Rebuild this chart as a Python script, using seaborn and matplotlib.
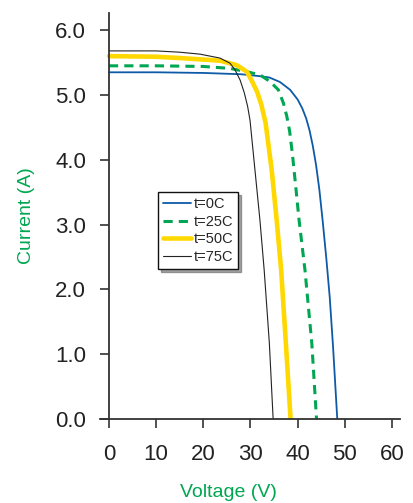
import numpy as np
import pandas as pd
import matplotlib
matplotlib.use('Agg')
import matplotlib.pyplot as plt
import seaborn as sns

sns.set_style('white')
plt.rcParams['font.family'] = ['Liberation Sans', 'DejaVu Sans']

# I-V curves (voltage V, current A)
v_0 = [0, 10, 20, 28, 32.0, 34.0, 36.25, 38.4, 40.0, 41.0, 41.8, 42.5, 43.2, 43.9, 44.6, 45.3, 46.1, 46.8, 47.5, 48.4]
i_0 = [5.35, 5.35, 5.34, 5.32, 5.29, 5.27, 5.20, 5.08, 4.93, 4.79, 4.64, 4.46, 4.22, 3.92, 3.54, 3.06, 2.46, 1.88, 1.12, 0.0]

v_25 = [0, 10, 20, 25.65, 29.2, 32.0, 34.1, 35.9, 37.0, 37.7, 38.3, 38.9, 39.6, 40.3, 41.55, 43.0, 44.0]
i_25 = [5.45, 5.45, 5.44, 5.41, 5.36, 5.31, 5.21, 5.08, 4.87, 4.67, 4.44, 4.08, 3.58, 3.07, 2.30, 1.17, 0.0]

v_50 = [0, 10, 15, 23.5, 27.1, 29.2, 30.2, 31.4, 32.3, 33.2, 34.5, 35.55, 36.5, 37.5, 38.5]
i_50 = [5.60, 5.59, 5.57, 5.53, 5.46, 5.36, 5.23, 5.05, 4.85, 4.57, 3.84, 3.07, 2.30, 1.17, 0.0]

v_75 = [0, 10, 15, 19.3, 23.5, 25.65, 26.7, 27.8, 28.7, 29.4, 29.9, 30.95, 32.0, 32.9, 34.0, 34.8]
i_75 = [5.68, 5.68, 5.66, 5.63, 5.57, 5.49, 5.39, 5.23, 5.03, 4.82, 4.61, 3.84, 3.07, 2.30, 1.17, 0.0]

labels = ['t=0C', 't=25C', 't=50C', 't=75C']
x_ticks = [0, 10, 20, 30, 40, 50, 60]
y_ticks = [0.0, 1.0, 2.0, 3.0, 4.0, 5.0, 6.0]

curves = pd.concat([
    pd.DataFrame({'V': v_0, 'I': i_0, 't': labels[0]}),
    pd.DataFrame({'V': v_25, 'I': i_25, 't': labels[1]}),
    pd.DataFrame({'V': v_50, 'I': i_50, 't': labels[2]}),
    pd.DataFrame({'V': v_75, 'I': i_75, 't': labels[3]}),
])

colors = {'t=0C': '#0d5aa7', 't=25C': '#00a651', 't=50C': '#ffd800', 't=75C': '#222222'}
widths = {'t=0C': 1.3, 't=25C': 2.2, 't=50C': 3.3, 't=75C': 0.8}
styles = {'t=0C': '-', 't=25C': (0, (3, 2)), 't=50C': '-', 't=75C': '-'}

fig = plt.figure(figsize=(4.14, 5.03), dpi=100)
ax = fig.add_axes([100 / 414, 1 - 419 / 503, 300 / 414, 406 / 503])

for lab in labels:
    sub = curves[curves['t'] == lab]
    sns.lineplot(data=sub, x='V', y='I', ax=ax, sort=False, color=colors[lab],
                 lw=widths[lab], linestyle=styles[lab], label=lab)

ax.set_xlim(-1.91, 61.7)
ax.set_ylim(0, 6.265)
ax.spines['left'].set_position(('data', 0))
ax.spines['right'].set_visible(False)
ax.spines['top'].set_visible(False)
for s in ['left', 'bottom']:
    ax.spines[s].set_color('#333333')
    ax.spines[s].set_linewidth(1.3)

ax.set_xticks(x_ticks)
ax.set_yticks(y_ticks)
ax.set_yticklabels([f'{v:.1f}' for v in y_ticks])
ax.tick_params(axis='both', direction='out', length=6.5, width=1.2, color='#333333',
               labelsize=16, labelcolor='#222222', bottom=True, left=True)
ax.tick_params(axis='x', pad=11.5)
ax.tick_params(axis='y', pad=10)

ax.set_xlabel('Voltage (V)', color='#00a651', fontsize=14)
ax.set_ylabel('Current (A)', color='#00a651', fontsize=14)
ax.xaxis.set_label_coords(0.427, -0.16)
ax.yaxis.set_label_coords(-0.217, 0.5)

leg = ax.legend(loc='upper left', bbox_to_anchor=(0.193, 0.559), borderaxespad=0,
                fontsize=10.5, frameon=True, fancybox=False, shadow=True,
                handlelength=1.9, handletextpad=0.2, labelspacing=0.25,
                borderpad=0.35)
leg.get_frame().set_edgecolor('#111111')
leg.get_frame().set_linewidth(1.0)

fig.savefig('out.png', dpi=100)
